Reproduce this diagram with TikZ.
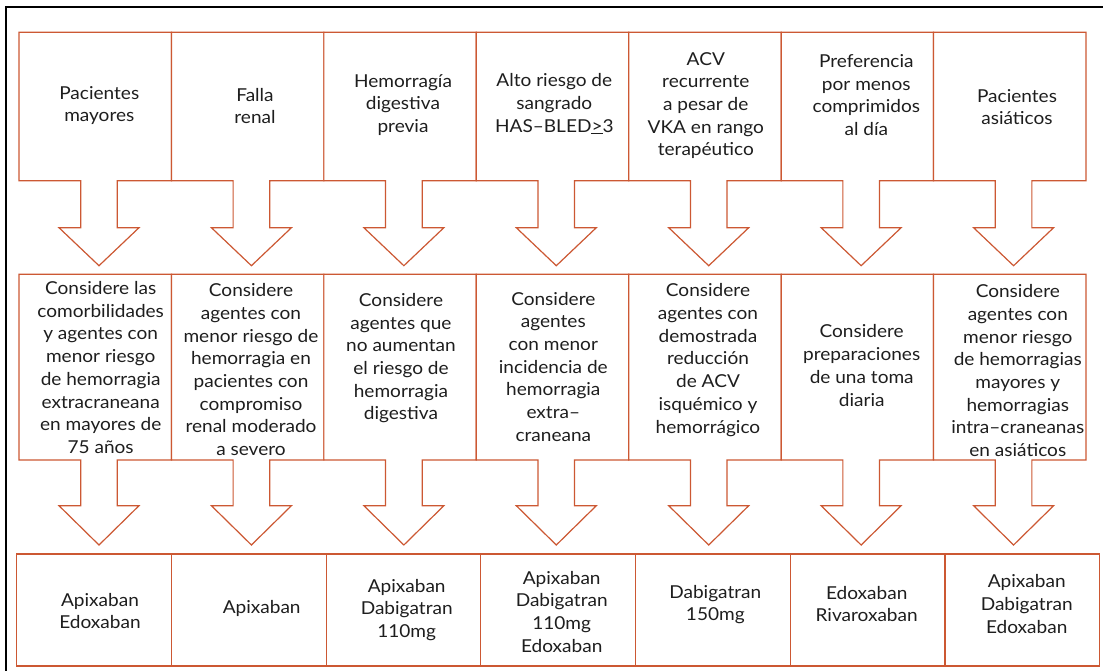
\documentclass[tikz,border=0pt]{standalone}
\usepackage{fontspec}
\setmainfont{Lato}[FakeStretch=1.07]
\definecolor{rust}{RGB}{204,88,51}
\definecolor{ink}{RGB}{30,30,30}
\begin{document}
\begin{tikzpicture}[x=1pt,y=-1pt,
  outline/.style={draw=rust, line width=1.2pt, fill=white, line join=miter},
  txt/.style={align=center, text=ink, inner sep=0pt, font=\fontsize{17.8}{22.7}\selectfont}]
\useasboundingbox (0,0) rectangle (1103,670);
% outer frame
\draw[line width=2pt, black] (6,7) rectangle (1115,685);
% first row: boxes merged with their block arrows
\foreach \i in {0,...,6} {
  \pgfmathsetmacro\xa{19+152.43*\i}
  \pgfmathsetmacro\xb{\xa+152.43}
  \pgfmathsetmacro\ax{\xa+80}
  \draw[outline] (\xa,32.3) -- (\xb,32.3) -- (\xb,180.7) -- (\ax+18.3,180.7)
    -- (\ax+18.3,227.7) -- (\ax+40,227.7) -- (\ax,265.7) -- (\ax-40,227.7)
    -- (\ax-18.3,227.7) -- (\ax-18.3,180.7) -- (\xa,180.7) -- cycle;
}
% second row: boxes merged with their block arrows
\foreach \i in {0,...,6} {
  \pgfmathsetmacro\xa{19+152.43*\i}
  \pgfmathsetmacro\xb{\xa+152.43}
  \pgfmathsetmacro\ax{\xa+80}
  \draw[outline] (\xa,274.3) -- (\xb,274.3) -- (\xb,460) -- (\ax+18.3,460)
    -- (\ax+18.3,505.7) -- (\ax+40,505.7) -- (\ax,545) -- (\ax-40,505.7)
    -- (\ax-18.3,505.7) -- (\ax-18.3,460) -- (\xa,460) -- cycle;
}
% third row: result boxes
\foreach \i in {0,...,6} {
  \pgfmathsetmacro\xa{16.7+154.7*\i}
  \pgfmathsetmacro\xb{\xa+154.7}
  \draw[outline] (\xa,554) rectangle (\xb,666);
}
% first row texts
\node[txt] (t1) at (99.3,105.5) {Pacientes\\mayores};
\node[txt] (t2) at (255,106) {Falla\\renal};
\node[txt] (t3) at (403,105) {Hemorragía\\digestiva\\previa};
\node[txt] (t4) at (554.3,104) {Alto riesgo de\\sangrado\\HAS–BLED\underline{>}3};
\node[txt] (t5) at (705.8,105.5) {ACV\\recurrente\\a pesar de\\VKA en rango\\terapéutico};
\node[txt] (t6) at (866.3,95) {Preferencia\\por menos\\comprimidos\\al día};
\node[txt] (t7) at (1017,107) {Pacientes\\asiáticos};
% second row texts
\node[txt] (m1) at (100.7,367.5) {Considere las\\comorbilidades\\y agentes con\\menor riesgo\\de hemorragia\\extracraneana\\en mayores de\\75 años};
\node[txt] (m2) at (251,369.7) {Considere\\agentes con\\menor riesgo de\\hemorragia en\\pacientes con\\compromiso\\renal moderado\\a severo};
\node[txt] (m3) at (401,358.3) {Considere\\agentes que\\no aumentan\\el riesgo de\\hemorragia\\digestiva};
\node[txt] (m4) at (553.3,366.7) {Considere\\agentes\\con menor\\incidencia de\\hemorragia\\extra–\\craneana};
\node[txt] (m5) at (708,360) {Considere\\agentes con\\demostrada\\reducción\\de ACV\\isquémico y\\hemorrágico};
\node[txt] (m6) at (861.7,365.5) {Considere\\preparaciones\\de una toma\\diaria};
\node[txt] (m7) at (1017.8,370.7) {Considere\\agentes con\\menor riesgo\\de hemorragias\\mayores y\\hemorragias\\intra–craneanas\\en asiáticos};
% third row texts
\node[txt] (b1) at (100,611) {Apixaban\\Edoxaban};
\node[txt] (b2) at (261.7,608.3) {Apixaban};
\node[txt] (b3) at (406.7,610) {Apixaban\\Dabigatran\\110mg};
\node[txt] (b4) at (561.7,611.8) {Apixaban\\Dabigatran\\110mg\\Edoxaban};
\node[txt] (b5) at (715.3,604.7) {Dabigatran\\150mg};
\node[txt] (b6) at (866.7,604) {Edoxaban\\Rivaroxaban};
\node[txt] (b7) at (1026.7,604.2) {Apixaban\\Dabigatran\\Edoxaban};
\end{tikzpicture}
\end{document}
